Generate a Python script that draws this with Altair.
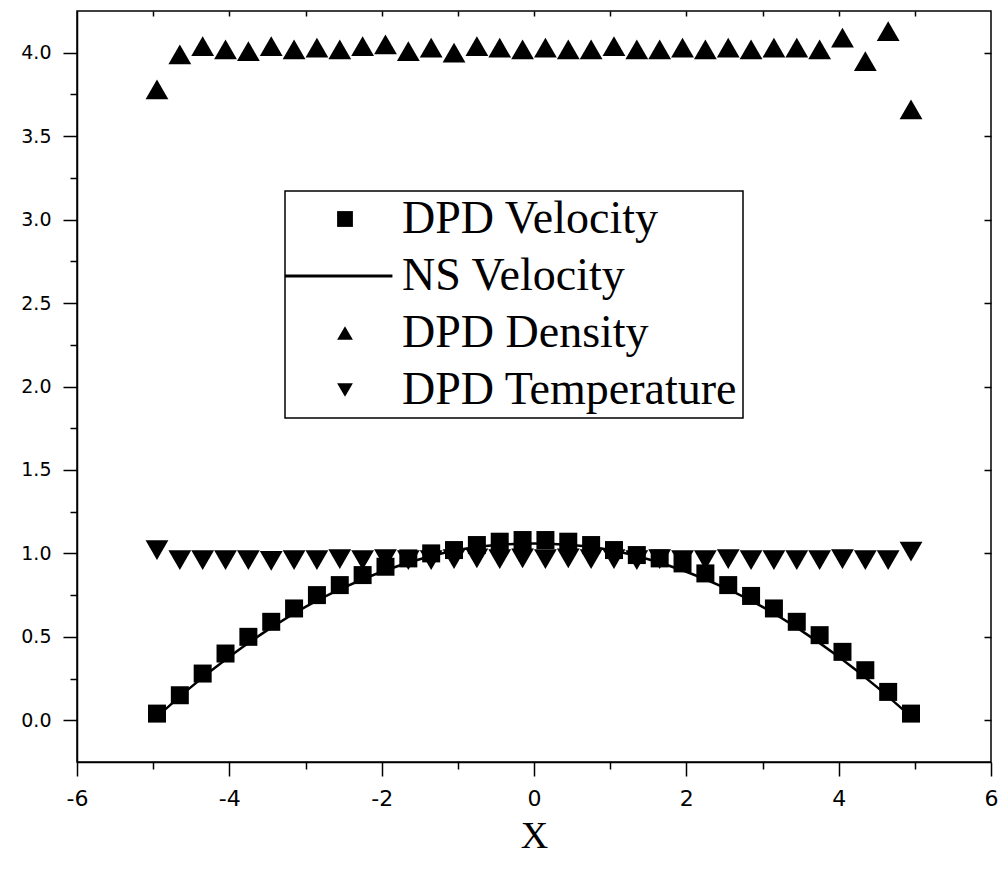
import altair as alt
import pandas as pd

# ---- data ----
x_dpd = [-4.95, -4.65, -4.35, -4.05, -3.75, -3.45, -3.15, -2.85, -2.55, -2.25,
         -1.95, -1.65, -1.35, -1.05, -0.75, -0.45, -0.15, 0.15, 0.45, 0.75,
         1.05, 1.35, 1.65, 1.95, 2.25, 2.55, 2.85, 3.15, 3.45, 3.75,
         4.05, 4.35, 4.65, 4.95]
dpd_velocity = [0.04, 0.15, 0.28, 0.40, 0.50, 0.59, 0.67, 0.75, 0.81, 0.87,
                0.92, 0.97, 1.00, 1.02, 1.05, 1.07, 1.08, 1.08, 1.07, 1.05,
                1.02, 0.99, 0.97, 0.94, 0.88, 0.81, 0.745, 0.67, 0.59, 0.51,
                0.41, 0.30, 0.17, 0.04]
dpd_density = [3.78, 3.99, 4.04, 4.02, 4.01, 4.04, 4.02, 4.03, 4.02, 4.04,
               4.05, 4.01, 4.03, 4.00, 4.04, 4.03, 4.02, 4.03, 4.02, 4.02,
               4.04, 4.02, 4.02, 4.03, 4.02, 4.03, 4.02, 4.03, 4.03, 4.02,
               4.09, 3.95, 4.13, 3.66]
dpd_temperature = [1.02, 0.96, 0.96, 0.96, 0.96, 0.955, 0.96, 0.96, 0.965, 0.96,
                   0.965, 0.96, 0.96, 0.965, 0.97, 0.965, 0.97, 0.965, 0.97, 0.965,
                   0.965, 0.96, 0.965, 0.96, 0.96, 0.965, 0.96, 0.96, 0.96, 0.96,
                   0.965, 0.96, 0.96, 1.01]
ns_x = [-5.0, -4.5, -4.0, -3.5, -3.0, -2.5, -2.0, -1.5, -1.0, -0.5, 0.0,
        0.5, 1.0, 1.5, 2.0, 2.5, 3.0, 3.5, 4.0, 4.5, 5.0]
ns_velocity = [0.0, 0.20, 0.38, 0.54, 0.68, 0.795, 0.89, 0.965, 1.02, 1.05, 1.06,
               1.05, 1.02, 0.965, 0.89, 0.795, 0.68, 0.54, 0.38, 0.20, 0.0]

series_order = ["DPD Velocity", "NS Velocity", "DPD Density", "DPD Temperature"]
# legend symbol for the NS line: a thin filled bar reaching the legend's left border
shape_range = ["square", "M-7.6,-0.2L6.0,-0.2L6.0,0.2L-7.6,0.2Z",
               "triangle-up", "triangle-down"]

df_vel = pd.DataFrame({"x": x_dpd, "y": dpd_velocity, "series": "DPD Velocity"})
df_den = pd.DataFrame({"x": x_dpd, "y": dpd_density, "series": "DPD Density"})
df_tmp = pd.DataFrame({"x": x_dpd, "y": dpd_temperature, "series": "DPD Temperature"})
df_ns = pd.DataFrame({"x": ns_x, "y": ns_velocity, "series": "NS Velocity"})

xscale = alt.Scale(domain=[-6, 6], nice=False, zero=False)
yscale = alt.Scale(domain=[-0.25, 4.25], nice=False, zero=False)

legend = alt.Legend(
    title=None, orient="none", legendX=208, legendY=180, direction="vertical",
    strokeColor="black", fillColor="white", padding=5,
    labelFont="Liberation Serif", labelFontSize=46, labelColor="black",
    labelLimit=600, labelOffset=34, symbolOffset=32, rowPadding=11,
    symbolSize=250, symbolFillColor="black", symbolStrokeColor="black",
    symbolStrokeWidth=1,
)
shape_enc = alt.Shape("series:N", scale=alt.Scale(domain=series_order, range=shape_range),
                      legend=legend)

x_bottom = alt.Axis(
    values=list(range(-6, 7)),
    labelExpr="datum.value % 2 == 0 ? '' + datum.value : ''",
    tickSize={"condition": {"test": "datum.value % 2 == 0", "value": 14}, "value": 7},
    labelFont="DejaVu Sans", labelFontSize=22, labelPadding=12, labelFlush=False,
    labelOverlap=False, title="X", titleFont="Liberation Serif", titleFontSize=38,
    titleFontWeight="normal", titlePadding=8, grid=False,
)
y_left = alt.Axis(
    values=[i * 0.25 for i in range(0, 17)],
    labelExpr="datum.value % 0.5 == 0 ? format(datum.value, '.1f') : ''",
    tickSize={"condition": {"test": "datum.value % 0.5 == 0", "value": 14}, "value": 7},
    labelFont="DejaVu Sans", labelFontSize=19, labelPadding=12, labelFlush=False,
    labelOverlap=False, title=None, grid=False,
)
x_top = alt.Axis(orient="top", values=list(range(-5, 6)), tickSize=5, offset=-5,
                 domain=False, labels=False, title=None, grid=False)
y_right = alt.Axis(orient="right", values=[i * 0.5 for i in range(0, 9)], tickSize=7,
                   offset=-7, domain=False, labels=False, title=None, grid=False)

line = alt.Chart(df_ns).mark_line(color="black", strokeWidth=2.5, interpolate="monotone").encode(
    x=alt.X("x:Q", scale=xscale, axis=None),
    y=alt.Y("y:Q", scale=yscale, axis=None),
)
squares = alt.Chart(df_vel).mark_point(filled=True, size=324, opacity=1, color="black").encode(
    x=alt.X("x:Q", scale=xscale, axis=x_bottom),
    y=alt.Y("y:Q", scale=yscale, axis=y_left),
    shape=shape_enc,
)
dens = alt.Chart(df_den).mark_point(filled=True, size=520, opacity=1, color="black").encode(
    x=alt.X("x:Q", scale=xscale, axis=x_top),
    y=alt.Y("y:Q", scale=yscale, axis=None),
    shape=shape_enc,
)
temp = alt.Chart(df_tmp).mark_point(filled=True, size=520, opacity=1, color="black").encode(
    x=alt.X("x:Q", scale=xscale, axis=None),
    y=alt.Y("y:Q", scale=yscale, axis=y_right),
    shape=shape_enc,
)

chart = alt.layer(line, squares, dens, temp).resolve_axis(
    x="independent", y="independent"
).properties(
    width=914, height=751,
    autosize=alt.AutoSizeParams(type="none"),
    padding={"left": 69, "top": 3, "right": 9, "bottom": 94},
    background="white",
).configure_view(
    stroke="black", strokeWidth=1.5
).configure_axis(
    domainColor="black", domainWidth=1.5, tickColor="black", tickWidth=1.5,
    labelColor="black", titleColor="black",
).configure_legend(
    strokeWidth=1.5
)

chart.save("out.html", embed_options={"renderer": "svg", "actions": False})
